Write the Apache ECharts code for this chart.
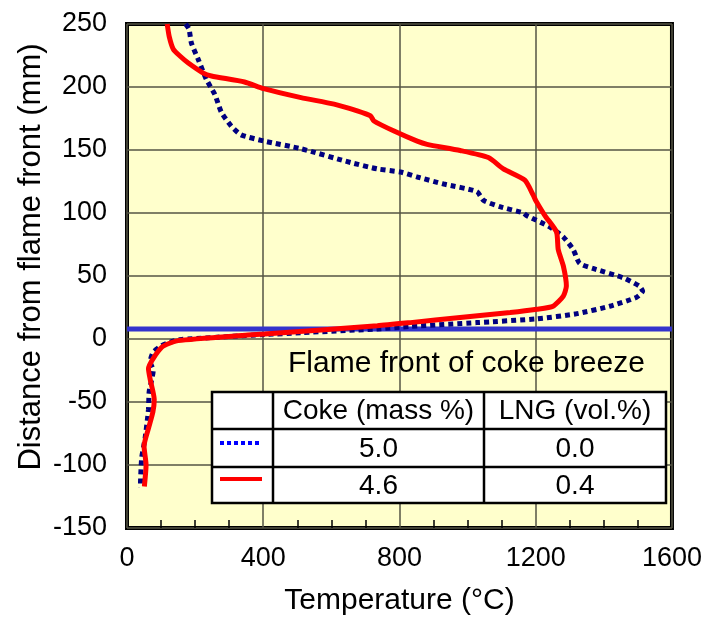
<!DOCTYPE html>
<html>
<head>
<meta charset="utf-8">
<script src="https://cdn.jsdelivr.net/npm/echarts@6/dist/echarts.min.js"></script>
<style>
html,body{margin:0;padding:0;background:#fff;}
#chart{width:705px;height:621px;}
</style>
</head>
<body>
<div id="chart"></div>
<script>
// Coke 5.0 mass%, LNG 0.0 vol% (blue dotted)
var baseTemp = [172, 182, 189, 209, 233, 258, 277, 306, 335, 404, 511, 657, 735, 803, 852, 930, 1027, 1047, 1095, 1164, 1173, 1241, 1281, 1310, 1329, 1368, 1456, 1504, 1514, 1495, 1417, 1319, 1203, 1027, 832, 735, 511, 404, 155, 126, 102, 77, 68, 77, 72, 65, 63, 53, 43, 39];
var baseDist = [250, 246, 235, 222, 206, 194, 180, 169, 162, 157, 151, 140, 135, 132.5, 128.6, 123, 117, 110, 105, 100, 98, 89, 81, 71, 60, 56, 48.6, 42, 38, 33, 26, 20, 16, 13, 10, 8, 5, 3.5, -0.5, -2.6, -5.3, -10.5, -18, -25, -33, -42, -56, -79, -94.5, -118];

// Coke 4.6 mass%, LNG 0.4 vol% (red solid)
var lngTemp = [118, 124, 136, 158, 180, 224, 248, 345, 401, 511, 608, 676, 715, 725, 784, 852, 881, 978, 1061, 1105, 1168, 1193, 1200, 1227, 1261, 1266, 1281, 1290, 1281, 1251, 1203, 1125, 978, 832, 735, 404, 355, 150, 102, 63, 68, 80, 76, 63, 50, 56, 51];
var lngDist = [250, 240, 230, 224, 219, 211, 208.7, 204, 198.7, 191.6, 186.4, 181, 177, 173, 165, 157, 154.5, 149.6, 144, 135, 126, 114, 110, 98, 85, 71, 58, 42, 34, 26, 23.6, 21, 17, 13, 10.5, 4, 3.1, -1.3, -6.5, -23.6, -32, -48, -58, -71, -85, -100, -117];

// Flame front of coke breeze (horizontal line)
var flameFrontTemp = [0, 1600];
var flameFrontDist = [8, 8];

var xTicks = [0, 400, 800, 1200, 1600];
var yTicks = [-150, -100, -50, 0, 50, 100, 150, 200, 250];

var tableHeader = ['', 'Coke (mass %)', 'LNG (vol.%)'];
var tableCoke = ['5.0', '4.6'];
var tableLng = ['0.0', '0.4'];

function zip(a, b) { return a.map(function (v, i) { return [v, b[i]]; }); }

var FONT = 'Liberation Sans, Arial, sans-serif';
var chart = echarts.init(document.getElementById('chart'), null, {renderer: 'canvas'});

// table geometry (decoration)
var tx = [212, 273, 484, 666];
var ty = [392, 429, 467, 503];
var tableEls = [];
tableEls.push({type: 'rect', shape: {x: tx[0], y: ty[0], width: tx[3] - tx[0], height: ty[3] - ty[0]}, style: {fill: '#fff', stroke: '#000', lineWidth: 2.5}, z: 100});
for (var i = 1; i < 3; i++) {
  tableEls.push({type: 'line', shape: {x1: tx[i], y1: ty[0], x2: tx[i], y2: ty[3]}, style: {stroke: '#000', lineWidth: 2.5}, z: 101});
  tableEls.push({type: 'line', shape: {x1: tx[0], y1: ty[i], x2: tx[3], y2: ty[i]}, style: {stroke: '#000', lineWidth: 2.5}, z: 101});
}
function cellText(txt, col, row) {
  return {type: 'text', x: (tx[col] + tx[col + 1]) / 2, y: (ty[row] + ty[row + 1]) / 2 + 1, z: 102,
    style: {text: txt, font: '28px ' + FONT, fill: '#000', textAlign: 'center', textVerticalAlign: 'middle'}};
}
tableEls.push(cellText(tableHeader[1], 1, 0));
tableEls.push(cellText(tableHeader[2], 2, 0));
tableEls.push(cellText(tableCoke[0], 1, 1));
tableEls.push(cellText(tableLng[0], 2, 1));
tableEls.push(cellText(tableCoke[1], 1, 2));
tableEls.push(cellText(tableLng[1], 2, 2));
tableEls.push({type: 'line', shape: {x1: 220, y1: 443, x2: 259, y2: 443}, style: {stroke: '#0000FF', lineWidth: 4, lineDash: [4, 3]}, z: 102});
tableEls.push({type: 'line', shape: {x1: 220, y1: 479, x2: 262, y2: 479}, style: {stroke: '#FF0000', lineWidth: 4}, z: 102});

var option = {
  animation: false,
  backgroundColor: '#ffffff',
  grid: {left: 127, right: 28, top: 24, bottom: 90, show: true, backgroundColor: '#FFFFCC', borderColor: '#000', borderWidth: 4, containLabel: false},
  xAxis: {
    type: 'value', min: xTicks[0], max: xTicks[xTicks.length - 1], interval: 400,
    axisLine: {show: false, onZero: false},
    axisTick: {show: false, inside: true},
    minorTick: {show: true, splitNumber: 4, length: 8, lineStyle: {color: '#000', width: 1.5}},
    axisLabel: {fontSize: 27, fontFamily: FONT, color: '#000', margin: 17, formatter: function (v) { return String(v); }},
    splitLine: {show: true, lineStyle: {color: '#555544', width: 1.5}},
    name: 'Temperature (°C)', nameLocation: 'middle', nameGap: 58,
    nameTextStyle: {fontSize: 30, fontFamily: FONT, color: '#000'}
  },
  yAxis: {
    type: 'value', min: yTicks[0], max: yTicks[yTicks.length - 1], interval: 50,
    axisLine: {show: false, onZero: false},
    axisTick: {show: false},
    axisLabel: {fontSize: 27, fontFamily: FONT, color: '#000', margin: 20, formatter: function (v) { return String(v); }},
    splitLine: {show: true, lineStyle: {color: '#555544', width: 1.5}}
  },
  graphic: [
    {type: 'text', x: 31, y: 257, rotation: Math.PI / 2,
      style: {text: 'Distance from flame front (mm)', font: '31px ' + FONT, fill: '#000', textAlign: 'center', textVerticalAlign: 'middle'}},
    {type: 'text', x: 288, y: 364, z: 100,
      style: {text: 'Flame front of coke breeze', font: '30px ' + FONT, fill: '#000', textAlign: 'left', textVerticalAlign: 'middle'}},
    {type: 'group', children: tableEls}
  ],
  series: [
    {type: 'line', name: 'Flame front', data: zip(flameFrontTemp, flameFrontDist), showSymbol: false, symbol: 'none',
      lineStyle: {color: '#3333CC', width: 5}, z: 2, clip: false},
    {type: 'line', name: 'Coke 5.0 / LNG 0.0', data: zip(baseTemp, baseDist), showSymbol: false, symbol: 'none', smooth: 0.2,
      lineStyle: {color: '#000080', width: 5, type: [5, 4]}, z: 3},
    {type: 'line', name: 'Coke 4.6 / LNG 0.4', data: zip(lngTemp, lngDist), showSymbol: false, symbol: 'none', smooth: 0.2,
      lineStyle: {color: '#FF0000', width: 5}, z: 4}
  ]
};
chart.setOption(option);
</script>
</body>
</html>
